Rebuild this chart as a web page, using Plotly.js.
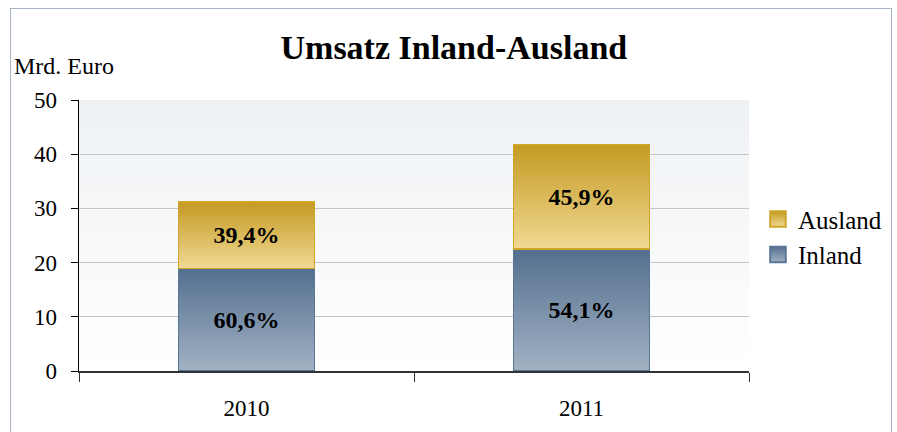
<!DOCTYPE html>
<html>
<head>
<meta charset="utf-8">
<script src="https://cdn.plot.ly/plotly-3.0.1.min.js"></script>
<style>
html,body{margin:0;padding:0;background:#fff;}
#wrap{position:relative;width:897px;height:432px;overflow:hidden;}
#chart{width:897px;height:432px;}
#frame{position:absolute;left:10px;top:8px;width:882px;height:440px;border:1px solid #a6b4c4;pointer-events:none;box-sizing:border-box;}
</style>
</head>
<body>
<div id="wrap"><div id="chart"></div><div id="frame"></div></div>
<script>
const years = ["2010", "2011"];
const inland = [18.9, 22.5];
const ausland = [12.3, 19.2];
const inlandLabels = ["60,6%", "54,1%"];
const auslandLabels = ["39,4%", "45,9%"];
const yTicks = [0, 10, 20, 30, 40, 50];

const serif = "Liberation Serif";

const traces = [
  {type: "bar", name: "Inland", x: years, y: inland, text: inlandLabels,
   legendrank: 2,
   textposition: "inside", insidetextanchor: "middle", textangle: 0, constraintext: "none",
   textfont: {family: serif, size: 24, color: "#000", weight: "bold"},
   marker: {color: "#7d93ab", line: {color: "#5a7595", width: 1.5}},
   hoverinfo: "none", width: 0.405},
  {type: "bar", name: "Ausland", x: years, y: ausland, text: auslandLabels,
   legendrank: 1,
   textposition: "inside", insidetextanchor: "middle", textangle: 0, constraintext: "none",
   textfont: {family: serif, size: 24, color: "#000", weight: "bold"},
   marker: {color: "#dcbc5a", line: {color: "#cfa52a", width: 1.5}},
   hoverinfo: "none", width: 0.405}
];

const layout = {
  width: 897, height: 432,
  margin: {l: 79, r: 148, t: 100, b: 61, autoexpand: false},
  paper_bgcolor: "rgba(0,0,0,0)",
  plot_bgcolor: "#f4f6f8",
  barmode: "stack",
  font: {family: serif, color: "#000", size: 22},
  title: {text: "<b>Umsatz Inland-Ausland</b>", font: {family: serif, size: 34, color: "#000"},
          x: 0.506, xanchor: "center", y: 0.89, yanchor: "middle"},
  xaxis: {type: "category", range: [-0.5, 1.5], showline: true, linecolor: "#333", linewidth: 1.5,
          ticks: "outside", tickson: "boundaries", ticklen: 9, tickcolor: "#333", tickwidth: 1,
          tickfont: {family: serif, size: 23, color: "#000"}, ticklabelstandoff: 16,
          showgrid: false, zeroline: false, fixedrange: true, automargin: false},
  yaxis: {range: [0, 50], tickvals: yTicks, ticktext: yTicks.map(String),
          showline: true, linecolor: "#000", linewidth: 1.5,
          ticks: "outside", ticklen: 7, tickcolor: "#000", tickwidth: 1,
          tickfont: {family: serif, size: 23, color: "#000"}, ticklabelstandoff: 9,
          showgrid: true, gridcolor: "#c4c4c4", gridwidth: 1, zeroline: false, fixedrange: true, automargin: false},
  legend: {xref: "container", x: 0.845, xanchor: "left", yref: "container", y: 0.452, yanchor: "middle",
           traceorder: "normal",
           font: {family: serif, size: 25, color: "#000"}, bgcolor: "rgba(0,0,0,0)"},
  annotations: [{text: "Mrd. Euro", xref: "paper", yref: "paper", x: -0.1, xanchor: "left",
                 y: 1.125, yanchor: "middle", showarrow: false,
                 font: {family: serif, size: 24, color: "#000"}}],
  showlegend: true
};

Plotly.newPlot("chart", traces, layout, {staticPlot: true, displayModeBar: false}).then(function(gd){
  const svg = gd.querySelector("svg.main-svg");
  const ns = "http://www.w3.org/2000/svg";
  let defs = svg.querySelector("defs");
  if (!defs) { defs = document.createElementNS(ns, "defs"); svg.insertBefore(defs, svg.firstChild); }
  function grad(id, top, bottom) {
    const g = document.createElementNS(ns, "linearGradient");
    g.setAttribute("id", id);
    g.setAttribute("x1", "0"); g.setAttribute("y1", "0");
    g.setAttribute("x2", "0"); g.setAttribute("y2", "1");
    [[0, top], [1, bottom]].forEach(function(s){
      const st = document.createElementNS(ns, "stop");
      st.setAttribute("offset", s[0]);
      st.setAttribute("stop-color", s[1]);
      g.appendChild(st);
    });
    defs.appendChild(g);
  }
  grad("gInland", "#536f8f", "#a2b2c4");
  grad("gAusland", "#c39a22", "#f1d994");
  grad("gBg", "#eef1f4", "#ffffff");
  const bg = svg.querySelector("rect.bg");
  if (bg) bg.style.fill = "url(#gBg)";
  const tr = gd.querySelectorAll(".barlayer .trace");
  tr.forEach(function(t, i){
    const id = i === 0 ? "gInland" : "gAusland";
    t.querySelectorAll(".point path").forEach(function(p){ p.style.fill = "url(#" + id + ")"; });
  });
  gd.querySelectorAll(".legend .traces").forEach(function(t){
    const txt = t.querySelector(".legendtext").textContent;
    const id = txt === "Inland" ? "gInland" : "gAusland";
    t.querySelectorAll(".legendpoints path").forEach(function(p){
      p.style.fill = "url(#" + id + ")";
      const tf = p.getAttribute("transform") || "";
      p.setAttribute("transform", tf + " scale(1.3)");
    });
  });
});
</script>
</body>
</html>
